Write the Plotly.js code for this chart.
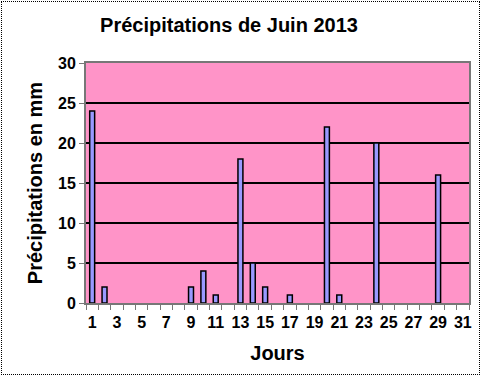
<!DOCTYPE html>
<html>
<head>
<meta charset="utf-8">
<script src="https://cdn.plot.ly/plotly-3.0.1.min.js"></script>
<style>
  html, body { margin: 0; padding: 0; background: #fff; }
  #wrap { position: relative; width: 481px; height: 376px; }
  #chart { width: 481px; height: 376px; }
  #frame { position: absolute; left: 1px; top: 1px; width: 477px; height: 372px;
           border: 1px dotted #000; pointer-events: none; }
</style>
</head>
<body>
<div id="wrap">
  <div id="chart"></div>
  <div id="frame"></div>
</div>
<script>
// Jours du mois de juin 2013
const days = [1,2,3,4,5,6,7,8,9,10,11,12,13,14,15,16,17,18,19,20,21,22,23,24,25,26,27,28,29,30,31];
// Précipitations en mm
const rain = [24,2,0,0,0,0,0,0,2,4,1,0,18,5,2,0,1,0,0,22,1,0,0,20,0,0,0,0,16,0,0];
// Étiquettes de l'axe des x (jours impairs)
const xTickVals = [1,3,5,7,9,11,13,15,17,19,21,23,25,27,29,31];
const xTickText = xTickVals.map(String);
const yTickVals = [0,5,10,15,20,25,30];

const font = {family: 'Liberation Sans, Arial, sans-serif', color: '#000'};

const trace = {
  type: 'bar',
  x: days,
  // jours sans pluie : pas de barre dessinée
  y: rain.map(v => v === 0 ? null : v),
  width: 0.4,
  marker: {color: '#9999ff', line: {color: '#000', width: 1.5}},
  hoverinfo: 'x+y'
};

const layout = {
  width: 481, height: 376,
  margin: {l: 86, r: 12, t: 63, b: 73},
  paper_bgcolor: '#ffffff',
  plot_bgcolor: '#ff94c8',
  showlegend: false,
  font: Object.assign({}, font, {size: 16}),
  title: {
    text: '<b>Précipitations de Juin 2013</b>',
    font: Object.assign({}, font, {size: 20}),
    xref: 'container', yref: 'container',
    x: 229/481, xanchor: 'center',
    y: 1 - 25/376, yanchor: 'middle'
  },
  xaxis: {
    range: [0.5, 31.5],
    tickmode: 'array',
    tickvals: xTickVals,
    ticktext: xTickText.map(t => '<b>' + t + '</b>'),
    ticks: '',
    ticklabelstandoff: 4,
    tickfont: Object.assign({}, font, {size: 16}),
    showgrid: false,
    zeroline: false,
    showline: true, linecolor: '#777', linewidth: 2, mirror: true,
    minor: {tick0: 0.5, dtick: 1, ticks: 'outside', ticklen: 5, tickcolor: '#777', tickwidth: 1, showgrid: false},
    title: {text: '<b>Jours</b>', font: Object.assign({}, font, {size: 20}), standoff: 16},
    fixedrange: true
  },
  yaxis: {
    range: [0, 30],
    tickmode: 'array',
    tickvals: yTickVals,
    ticktext: yTickVals.map(v => '<b>' + v + '</b>'),
    ticks: 'outside', ticklen: 5, tickcolor: '#777',
    tickfont: Object.assign({}, font, {size: 16}),
    showgrid: true, gridcolor: '#000', gridwidth: 2,
    zeroline: false,
    showline: true, linecolor: '#777', linewidth: 2, mirror: true,
    title: {text: '<b>Précipitations en mm</b>', font: Object.assign({}, font, {size: 20}), standoff: 10},
    fixedrange: true
  }
};

Plotly.newPlot('chart', [trace], layout, {displayModeBar: false, staticPlot: true});
</script>
</body>
</html>
